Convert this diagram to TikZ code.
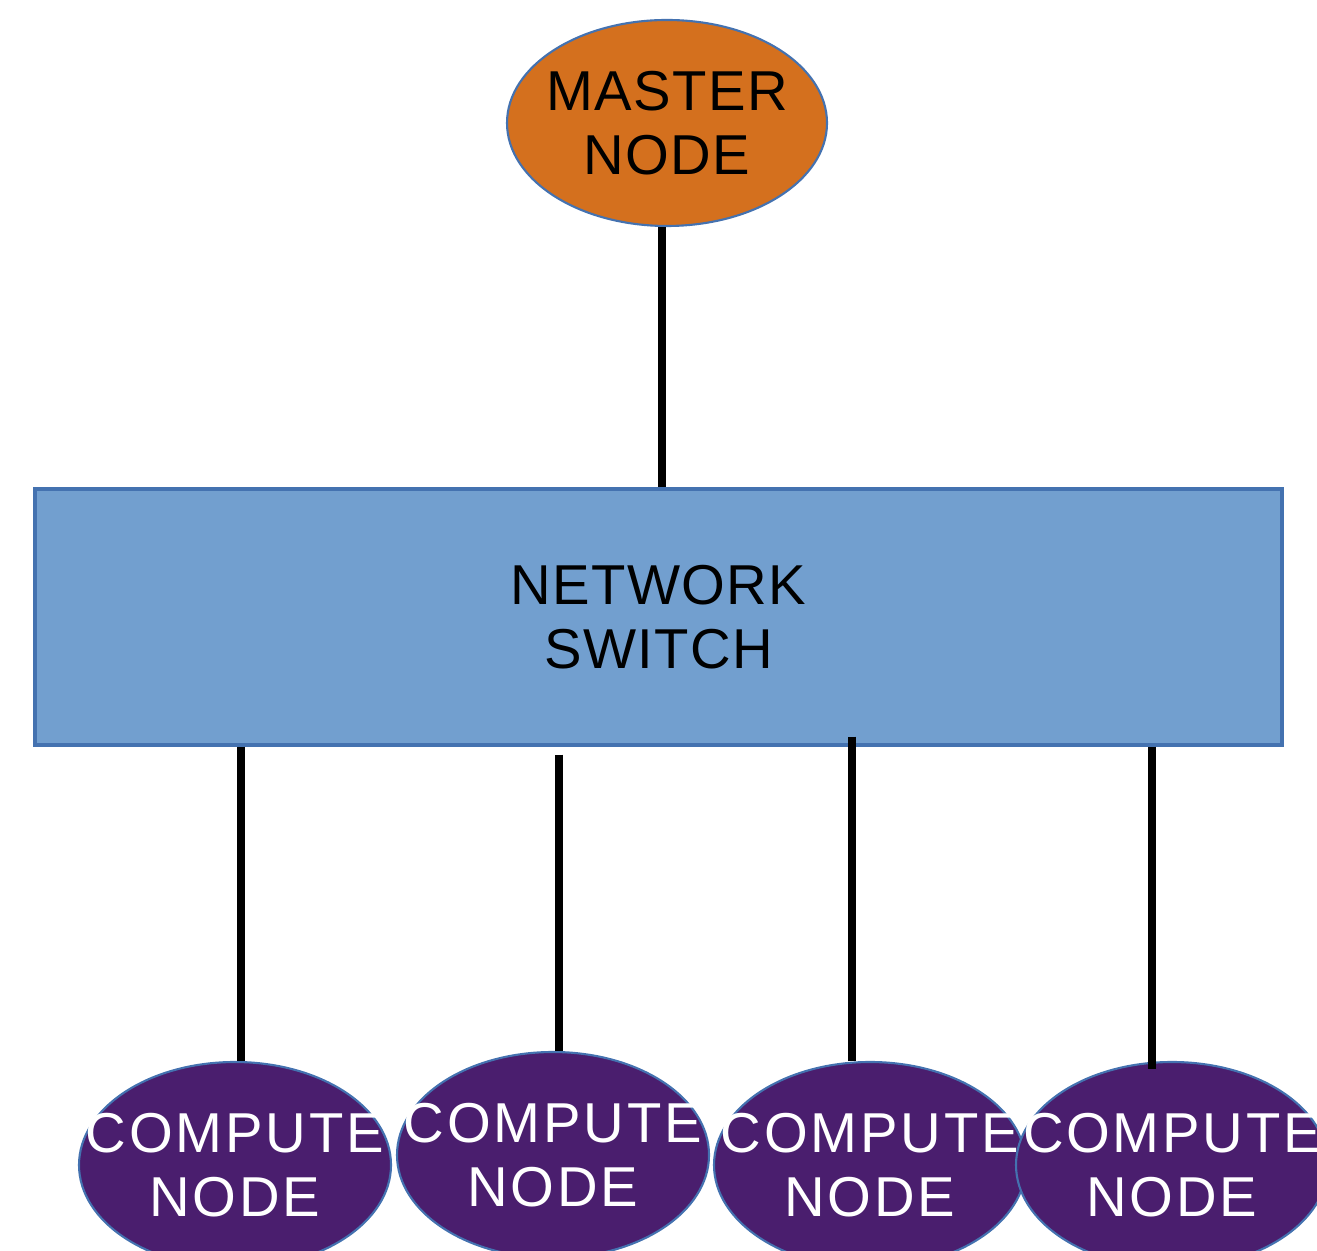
\documentclass[tikz,border=0pt]{standalone}
\usepackage{fontspec}
\setmainfont{Liberation Sans}
\newfontfamily\labelfont[LetterSpace=2.5]{Liberation Sans}
\newfontfamily\computefont[LetterSpace=5]{Liberation Sans}
\usepackage{tikz}
\usetikzlibrary{shapes.geometric, calc}
\usepackage{xcolor}

\definecolor{masterorange}{RGB}{212,112,30}
\definecolor{switchblue}{RGB}{114,159,207}
\definecolor{edgeblue}{RGB}{68,114,176}
\definecolor{computepurple}{RGB}{74,30,110}

\begin{document}
\begin{tikzpicture}[
    every node/.style={align=center},
    master/.style={ellipse, draw=edgeblue, line width=0.6pt, fill=masterorange, minimum width=3.2cm, minimum height=2.06cm, inner sep=0pt},
    netswitch/.style={rectangle, draw=edgeblue, line width=0.9pt, fill=switchblue, minimum width=12.47cm, minimum height=2.56cm, inner sep=0pt},
    compute/.style={ellipse, draw=edgeblue, line width=0.6pt, fill=computepurple, minimum width=3.12cm, minimum height=2.06cm, inner sep=0pt},
    nodetext/.style={font=\labelfont\fontsize{16}{18.2}\selectfont, inner sep=0pt, align=center},
    computetext/.style={font=\computefont\fontsize{16}{18.2}\selectfont, text=white, inner sep=0pt, align=center},
    link/.style={black, line width=2.3pt}
]
\clip (0,0) rectangle (13.17,12.5);

% Nodes
\node[master, label={[nodetext, text=black]center:{MASTER\\NODE}}] (master) at (6.67,11.27) {};
\node[netswitch, nodetext] (switch) at (6.585,6.33) {NETWORK\\SWITCH};
\node[compute, label={[computetext]center:{COMPUTE\\NODE}}] (c1) at (2.35,0.85) {};
\node[compute, label={[computetext]center:{COMPUTE\\NODE}}] (c2) at (5.53,0.95) {};
\node[compute, label={[computetext]center:{COMPUTE\\NODE}}] (c3) at (8.70,0.85) {};
\node[compute, label={[computetext]center:{COMPUTE\\NODE}}] (c4) at (11.72,0.85) {};

% Links
\draw[link] ([xshift=-0.05cm]master.south) -- ([xshift=-0.05cm]master.south |- switch.north);
\draw[link] ([xshift=0.06cm]c1.north |- switch.south) -- ([xshift=0.06cm]c1.north);
\draw[link, shorten <=0.08cm] ([xshift=0.06cm]c2.north |- switch.south) -- ([xshift=0.06cm]c2.north);
\draw[link, shorten <=-0.1cm] ([xshift=-0.18cm]c3.north |- switch.south) -- ([xshift=-0.18cm]c3.north);
\draw[link, shorten >=-0.08cm] ([xshift=-0.2cm]c4.north |- switch.south) -- ([xshift=-0.2cm]c4.north);

\end{tikzpicture}
\end{document}
